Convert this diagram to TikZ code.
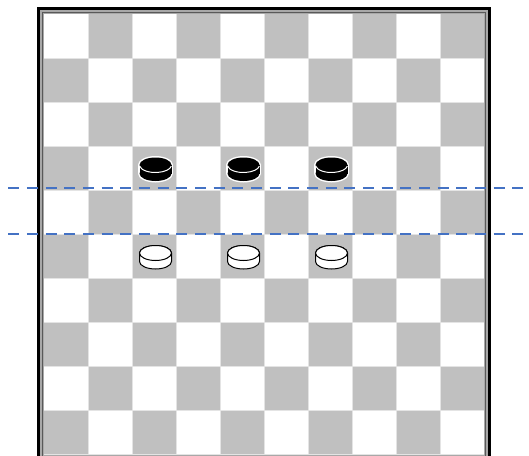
\documentclass[tikz,border=0pt]{standalone}
\usepackage{tikz}
\definecolor{sqgray}{HTML}{C0C0C0}
\definecolor{framegray}{HTML}{A8A8A8}
\definecolor{linegray}{HTML}{E4E4E4}
\definecolor{dashblue}{HTML}{4472C4}
\tikzset{
  sep line/.style={draw=dashblue,line width=2.3pt,dash pattern=on 11pt off 7.67pt},
}
\newcommand\blackpiece[2]{%
  \fill[white] (#1-17.5,#2-3) rectangle (#1+17.5,#2+5.5);
  \fill[white] (#1,#2-3) ellipse (17.5 and 9);
  \fill[white] (#1,#2+5.5) ellipse (17.5 and 9);
  \fill[black] (#1-16,#2-3) rectangle (#1+16,#2+5.5);
  \fill[black] (#1,#2-3) ellipse (16 and 7.5);
  \fill[black] (#1,#2+5.5) ellipse (16 and 7.5);
  \draw[white,line width=1pt] (#1,#2-3) ++(172:16 and 7.5) arc (172:8:16 and 7.5);
}
\newcommand\whitepiece[2]{%
  \filldraw[fill=white,draw=black,line width=1pt] (#1-16,#2-3) -- (#1-16,#2+5.5) arc (180:0:16 and 7.5) -- (#1+16,#2-3) arc (0:-180:16 and 7.5) -- cycle;
  \filldraw[fill=white,draw=black,line width=1pt] (#1,#2-3) ellipse (16 and 7.5);
}
\begin{document}
\begin{tikzpicture}[x=1pt,y=-1pt]
\useasboundingbox (0,0) rectangle (529,455);
\begin{scope}
\clip (0,0) rectangle (529,455);
% frame
\fill[framegray] (37,7) rectangle (491,470);
\draw[black,line width=3pt] (38.5,8.5) rectangle (489.5,470);
\draw[black!65,line width=1pt] (42.5,12.5) rectangle (485.5,470);
% squares
\fill[white] (44,14) rectangle (484,454);
\foreach \r in {0,...,9}{
  \foreach \c in {0,...,9}{
    \pgfmathtruncatemacro\odd{mod(\r+\c,2)}
    \ifnum\odd=1
      \fill[sqgray] (44+44*\c,14+44*\r) rectangle ++(44,44);
    \fi
  }
}
\foreach \i in {1,...,9}{
  \draw[linegray,line width=0.8pt] (44+44*\i,14) -- (44+44*\i,454);
  \draw[linegray,line width=0.8pt] (44,14+44*\i) -- (484,14+44*\i);
}
\draw[linegray,line width=0.8pt] (44,454) -- (484,454);
% pieces
\blackpiece{155.5}{168}
\blackpiece{243.5}{168}
\blackpiece{331.5}{168}
\whitepiece{155.5}{256}
\whitepiece{243.5}{256}
\whitepiece{331.5}{256}
% dashed separators
\coordinate (l1a) at (8.3,188.3);
\coordinate (l1b) at (529,188.3);
\coordinate (l2a) at (8.3,234.3);
\coordinate (l2b) at (529,234.3);
\draw[sep line] (l1a) -- (l1b);
\draw[sep line] (l2a) -- (l2b);
\end{scope}
\end{tikzpicture}
\end{document}
